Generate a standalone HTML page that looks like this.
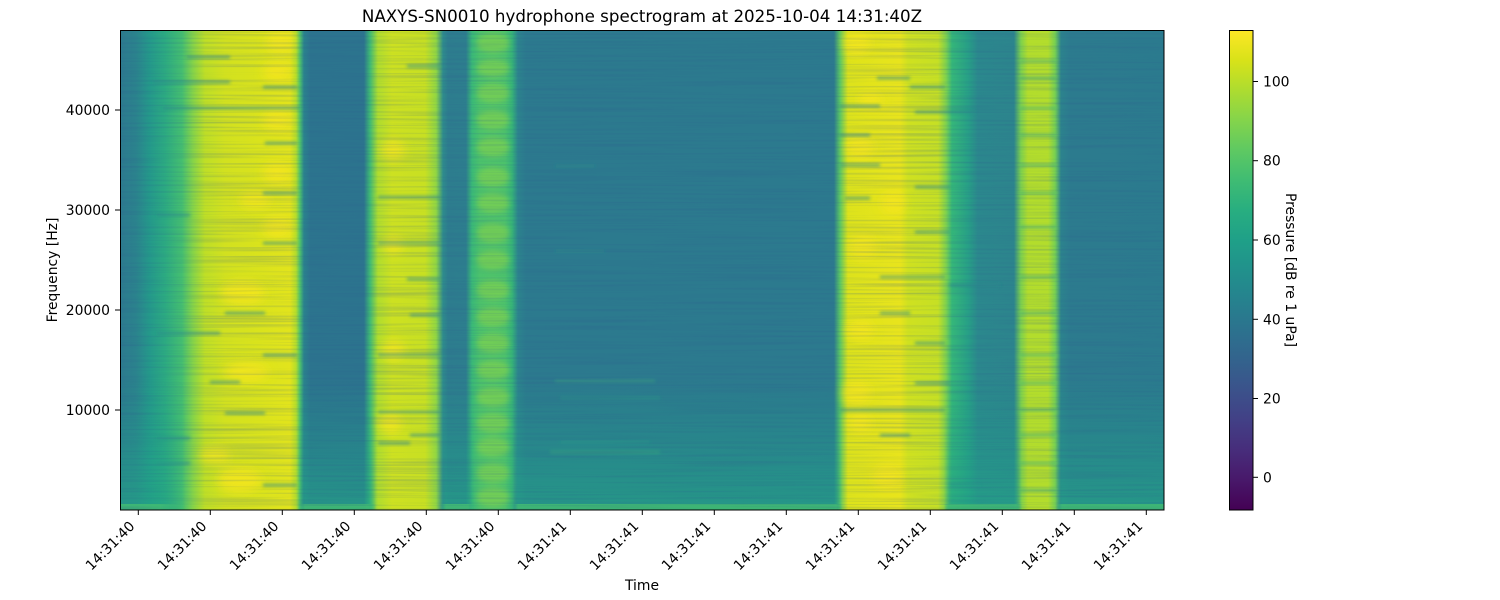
<!DOCTYPE html>
<html><head><meta charset="utf-8"><style>
html,body{margin:0;padding:0;background:#fff;}
svg{display:block;}
text{font-family:"DejaVu Sans","Liberation Sans",sans-serif;fill:#000;}
</style></head><body>
<svg width="1500" height="600" viewBox="0 0 1500 600" xmlns="http://www.w3.org/2000/svg">
<defs>
<linearGradient id="prof" gradientUnits="userSpaceOnUse" x1="120" y1="0" x2="1164" y2="0">
<stop offset="0" stop-color="#2c7a8e"/>
<stop offset=".0153" stop-color="#2b838d"/>
<stop offset=".0287" stop-color="#249a8a"/>
<stop offset=".0431" stop-color="#2cab81"/>
<stop offset=".0594" stop-color="#45bf70"/>
<stop offset=".0699" stop-color="#86d448"/>
<stop offset=".0814" stop-color="#bfdf26"/>
<stop offset=".1006" stop-color="#d2e11f"/>
<stop offset=".1341" stop-color="#dae31c"/>
<stop offset=".1628" stop-color="#e2e41c"/>
<stop offset=".1686" stop-color="#b5de2b"/>
<stop offset=".1724" stop-color="#4fc36a"/>
<stop offset=".1762" stop-color="#2a838d"/>
<stop offset=".1820" stop-color="#2c748e"/>
<stop offset=".2337" stop-color="#2c748e"/>
<stop offset=".2395" stop-color="#3fbb74"/>
<stop offset=".2471" stop-color="#b0dd2e"/>
<stop offset=".2605" stop-color="#cde121"/>
<stop offset=".2921" stop-color="#c8e022"/>
<stop offset=".3027" stop-color="#92d742"/>
<stop offset=".3094" stop-color="#2e8c8c"/>
<stop offset=".3142" stop-color="#2d7d8e"/>
<stop offset=".3314" stop-color="#2d7e8e"/>
<stop offset=".3372" stop-color="#3ab977"/>
<stop offset=".3448" stop-color="#4cc26c"/>
<stop offset=".3688" stop-color="#4cc26c"/>
<stop offset=".3755" stop-color="#36b478"/>
<stop offset=".3812" stop-color="#2c848d"/>
<stop offset=".3889" stop-color="#2c7a8e"/>
<stop offset=".6839" stop-color="#2c7a8e"/>
<stop offset=".6897" stop-color="#5cc863"/>
<stop offset=".6973" stop-color="#dde31b"/>
<stop offset=".7471" stop-color="#e8e41c"/>
<stop offset=".7548" stop-color="#cfe120"/>
<stop offset=".7835" stop-color="#c6e024"/>
<stop offset=".7912" stop-color="#7fd24d"/>
<stop offset=".7969" stop-color="#35b779"/>
<stop offset=".8123" stop-color="#27a086"/>
<stop offset=".8218" stop-color="#2b888d"/>
<stop offset=".8563" stop-color="#2c858d"/>
<stop offset=".8630" stop-color="#7ed24c"/>
<stop offset=".8697" stop-color="#b3dd2c"/>
<stop offset=".8889" stop-color="#b3dd2c"/>
<stop offset=".8956" stop-color="#78d151"/>
<stop offset=".9013" stop-color="#2c838d"/>
<stop offset=".9100" stop-color="#2c7b8e"/>
<stop offset="1" stop-color="#2b7b8e"/>
</linearGradient>
<linearGradient id="mgrad" gradientUnits="userSpaceOnUse" x1="120" y1="0" x2="1164" y2="0">
<stop offset="0" stop-color="#fff"/>
<stop offset=".0383" stop-color="#fff"/>
<stop offset=".0623" stop-color="#000"/>
<stop offset=".1705" stop-color="#000"/>
<stop offset=".1772" stop-color="#fff"/>
<stop offset=".2375" stop-color="#fff"/>
<stop offset=".2452" stop-color="#000"/>
<stop offset=".3065" stop-color="#000"/>
<stop offset=".3123" stop-color="#fff"/>
<stop offset=".3333" stop-color="#fff"/>
<stop offset=".3391" stop-color="#000"/>
<stop offset=".3774" stop-color="#000"/>
<stop offset=".3812" stop-color="#fff"/>
<stop offset=".6858" stop-color="#fff"/>
<stop offset=".6916" stop-color="#000"/>
<stop offset=".7893" stop-color="#000"/>
<stop offset=".7950" stop-color="#fff"/>
<stop offset=".8582" stop-color="#fff"/>
<stop offset=".8640" stop-color="#000"/>
<stop offset=".8966" stop-color="#000"/>
<stop offset=".9023" stop-color="#fff"/>
<stop offset="1" stop-color="#fff"/>
</linearGradient>
<mask id="quiet" maskUnits="userSpaceOnUse" x="120" y="30" width="1044" height="480">
<rect x="120" y="30" width="1044" height="480" fill="url(#mgrad)"/>
</mask>
<linearGradient id="lowf" gradientUnits="userSpaceOnUse" x1="0" y1="380" x2="0" y2="505">
<stop offset="0" stop-color="#20a386" stop-opacity="0"/>
<stop offset=".55" stop-color="#20a386" stop-opacity="0.35"/>
<stop offset="1" stop-color="#22a884" stop-opacity="0.62"/>
</linearGradient>
<linearGradient id="vir" x1="0" y1="1" x2="0" y2="0">
<stop offset="0" stop-color="#440154"/>
<stop offset=".0625" stop-color="#48186a"/>
<stop offset=".125" stop-color="#472d7b"/>
<stop offset=".1875" stop-color="#424086"/>
<stop offset=".25" stop-color="#3b528b"/>
<stop offset=".3125" stop-color="#33638d"/>
<stop offset=".375" stop-color="#2c728e"/>
<stop offset=".4375" stop-color="#26828e"/>
<stop offset=".5" stop-color="#21918c"/>
<stop offset=".5625" stop-color="#1fa088"/>
<stop offset=".625" stop-color="#28ae80"/>
<stop offset=".6875" stop-color="#3fbc73"/>
<stop offset=".75" stop-color="#5ec962"/>
<stop offset=".8125" stop-color="#84d44b"/>
<stop offset=".875" stop-color="#addc30"/>
<stop offset=".9375" stop-color="#d8e219"/>
<stop offset="1" stop-color="#fde725"/>
</linearGradient>
<filter id="noise" filterUnits="userSpaceOnUse" x="120" y="30" width="1044" height="480" color-interpolation-filters="sRGB">
<feTurbulence type="fractalNoise" baseFrequency="0.006 0.45" numOctaves="2" seed="5"/>
<feColorMatrix type="matrix" values="0 0 0 0 0.18  0 0 0 0 0.36  0 0 0 0 0.56  1.7 0 0 0 -0.72"/>
</filter>
<filter id="b5" x="-20%" y="-20%" width="140%" height="140%"><feGaussianBlur stdDeviation="5"/></filter>
<filter id="b3" x="-20%" y="-20%" width="140%" height="140%"><feGaussianBlur stdDeviation="3"/></filter>
<filter id="b1" x="-20%" y="-20%" width="140%" height="140%"><feGaussianBlur stdDeviation="1.6"/></filter>
<clipPath id="pc"><rect x="120" y="30" width="1044" height="480"/></clipPath>
</defs>

<text x="642" y="22" font-size="16.7" text-anchor="middle">NAXYS-SN0010 hydrophone spectrogram at 2025-10-04 14:31:40Z</text>

<g clip-path="url(#pc)">
<rect x="120" y="30" width="1044" height="480" fill="url(#prof)"/>
<g filter="url(#b5)" fill="#f6e61f" opacity="0.8">
<ellipse cx="280" cy="42" rx="14" ry="10"/><ellipse cx="277" cy="72" rx="14" ry="9"/>
<ellipse cx="277" cy="120" rx="14" ry="10"/><ellipse cx="277" cy="173" rx="14" ry="10"/>
<ellipse cx="277" cy="227" rx="14" ry="10"/><ellipse cx="243" cy="293" rx="22" ry="12"/>
<ellipse cx="247" cy="372" rx="22" ry="10"/><ellipse cx="240" cy="480" rx="22" ry="12"/>
<ellipse cx="215" cy="455" rx="15" ry="8"/><ellipse cx="255" cy="200" rx="16" ry="8"/>
<ellipse cx="393" cy="150" rx="12" ry="10"/><ellipse cx="390" cy="423" rx="12" ry="10"/>
<ellipse cx="393" cy="350" rx="12" ry="9"/><ellipse cx="393" cy="245" rx="10" ry="8"/>
<ellipse cx="857" cy="43" rx="14" ry="12"/><ellipse cx="860" cy="147" rx="14" ry="12"/>
<ellipse cx="893" cy="203" rx="12" ry="10"/><ellipse cx="857" cy="393" rx="14" ry="12"/>
<ellipse cx="860" cy="423" rx="12" ry="10"/><ellipse cx="887" cy="477" rx="14" ry="12"/>
<ellipse cx="863" cy="247" rx="14" ry="12"/><ellipse cx="870" cy="100" rx="12" ry="8"/>
<ellipse cx="860" cy="330" rx="14" ry="10"/>
</g>
<g filter="url(#b3)" fill="#74cf55" opacity="0.9">
<ellipse cx="493" cy="43" rx="16" ry="10"/><ellipse cx="493" cy="68" rx="16" ry="9"/>
<ellipse cx="493" cy="93" rx="16" ry="10"/><ellipse cx="493" cy="120" rx="16" ry="10"/>
<ellipse cx="493" cy="147" rx="16" ry="10"/><ellipse cx="493" cy="177" rx="16" ry="10"/>
<ellipse cx="493" cy="203" rx="16" ry="10"/><ellipse cx="493" cy="233" rx="16" ry="10"/>
<ellipse cx="493" cy="260" rx="16" ry="10"/><ellipse cx="493" cy="290" rx="16" ry="10"/>
<ellipse cx="493" cy="317" rx="16" ry="10"/><ellipse cx="493" cy="343" rx="16" ry="10"/>
<ellipse cx="493" cy="370" rx="16" ry="10"/><ellipse cx="493" cy="397" rx="16" ry="10"/>
<ellipse cx="493" cy="423" rx="16" ry="10"/><ellipse cx="493" cy="447" rx="16" ry="10"/>
<ellipse cx="493" cy="473" rx="16" ry="10"/><ellipse cx="493" cy="497" rx="16" ry="10"/>
</g>
<g filter="url(#b1)" fill="#2a8a8c" opacity="0.8">
<rect x="187" y="56" width="43" height="2.2"/><rect x="153" y="81" width="77" height="2.2"/>
<rect x="263" y="86" width="34" height="2.2"/><rect x="163" y="107" width="137" height="2.2"/>
<rect x="265" y="142" width="32" height="2.2"/><rect x="263" y="192" width="34" height="2.2"/>
<rect x="157" y="214" width="33" height="2.2"/><rect x="263" y="242" width="34" height="2.2"/>
<rect x="225" y="312" width="40" height="2.2"/><rect x="157" y="332" width="63" height="2.2"/>
<rect x="263" y="354" width="34" height="2.2"/><rect x="210" y="381" width="30" height="2.2"/>
<rect x="225" y="412" width="40" height="2.2"/><rect x="157" y="437" width="33" height="2.2"/>
<rect x="157" y="462" width="33" height="2.2"/><rect x="263" y="484" width="34" height="2.2"/>
<rect x="407" y="65" width="33" height="2.2"/><rect x="378" y="196" width="62" height="2"/>
<rect x="378" y="242" width="62" height="2"/><rect x="407" y="278" width="33" height="2.2"/>
<rect x="410" y="314" width="30" height="2.2"/><rect x="378" y="354" width="62" height="2"/>
<rect x="378" y="411" width="62" height="2"/><rect x="410" y="434" width="30" height="2.2"/>
<rect x="378" y="442" width="32" height="2.2"/>
<rect x="877" y="77" width="33" height="2.2"/><rect x="910" y="86" width="35" height="2.2"/>
<rect x="840" y="105" width="40" height="2.2"/><rect x="915" y="111" width="60" height="2.2"/>
<rect x="840" y="134" width="30" height="2.2"/><rect x="840" y="164" width="40" height="2.2"/>
<rect x="915" y="186" width="35" height="2.2"/><rect x="845" y="197" width="25" height="2.2"/>
<rect x="915" y="231" width="35" height="2.2"/><rect x="880" y="276" width="65" height="2"/>
<rect x="950" y="284" width="50" height="2.2"/><rect x="880" y="312" width="30" height="2.2"/>
<rect x="915" y="342" width="30" height="2.2"/><rect x="915" y="382" width="35" height="2.2"/>
<rect x="840" y="409" width="105" height="2.2"/><rect x="880" y="434" width="30" height="2.2"/>
<rect x="950" y="484" width="30" height="2.2"/>
</g>
<g filter="url(#b1)" fill="#3aa981" opacity="0.75">
<rect x="1020" y="60" width="36" height="2"/><rect x="1020" y="77" width="36" height="2.2"/>
<rect x="1020" y="107" width="36" height="2.2"/><rect x="1020" y="134" width="36" height="2.2"/>
<rect x="1020" y="164" width="36" height="2.2"/><rect x="1020" y="192" width="36" height="2.2"/>
<rect x="1020" y="226" width="36" height="2.2"/><rect x="1020" y="276" width="36" height="2.2"/>
<rect x="1020" y="312" width="36" height="2.2"/><rect x="1020" y="354" width="36" height="2.2"/>
<rect x="1020" y="382" width="36" height="2.2"/><rect x="1020" y="409" width="36" height="2.2"/>
<rect x="1020" y="434" width="36" height="2.2"/><rect x="1020" y="462" width="36" height="2.2"/>
<rect x="1020" y="489" width="36" height="2.2"/>
</g>
<g filter="url(#b1)">
<rect x="555" y="380" width="100" height="2" fill="#3db977" opacity="0.5"/>
<rect x="560" y="397" width="100" height="2" fill="#2fb07f" opacity="0.4"/>
<rect x="550" y="451" width="110" height="2.2" fill="#4ac16d" opacity="0.6"/>
<rect x="560" y="441" width="90" height="2" fill="#2fb07f" opacity="0.35"/>
<rect x="555" y="250" width="50" height="2" fill="#2fa585" opacity="0.35"/>
<rect x="555" y="165" width="40" height="2" fill="#2fa585" opacity="0.3"/>
</g>
<g mask="url(#quiet)">
<rect x="120" y="380" width="1044" height="130" fill="url(#lowf)"/>
</g>
<rect x="120" y="504" width="1044" height="6" fill="#46c06f" opacity="0.75" mask="url(#quiet)"/>
<rect x="120" y="30" width="1044" height="480" filter="url(#noise)" opacity="0.32"/>
</g>
<rect x="120.5" y="30.5" width="1043.5" height="479.5" fill="none" stroke="#000" stroke-width="1"/>

<g stroke="#000" stroke-width="1">
<line x1="115" y1="410" x2="120" y2="410"/><line x1="115" y1="310" x2="120" y2="310"/>
<line x1="115" y1="210" x2="120" y2="210"/><line x1="115" y1="110" x2="120" y2="110"/>
</g>
<g font-size="13.9" text-anchor="end">
<text x="110" y="415">10000</text><text x="110" y="315">20000</text>
<text x="110" y="215">30000</text><text x="110" y="115">40000</text>
</g>
<text transform="translate(57,270) rotate(-90)" font-size="13.9" text-anchor="middle">Frequency [Hz]</text>

<g stroke="#000" stroke-width="1">
<line x1="138.3" y1="510" x2="138.3" y2="515"/><line x1="210.3" y1="510" x2="210.3" y2="515"/>
<line x1="282.3" y1="510" x2="282.3" y2="515"/><line x1="354.3" y1="510" x2="354.3" y2="515"/>
<line x1="426.3" y1="510" x2="426.3" y2="515"/><line x1="498.3" y1="510" x2="498.3" y2="515"/>
<line x1="570.3" y1="510" x2="570.3" y2="515"/><line x1="642.3" y1="510" x2="642.3" y2="515"/>
<line x1="714.3" y1="510" x2="714.3" y2="515"/><line x1="786.3" y1="510" x2="786.3" y2="515"/>
<line x1="858.3" y1="510" x2="858.3" y2="515"/><line x1="930.3" y1="510" x2="930.3" y2="515"/>
<line x1="1002.3" y1="510" x2="1002.3" y2="515"/><line x1="1074.3" y1="510" x2="1074.3" y2="515"/>
<line x1="1146.3" y1="510" x2="1146.3" y2="515"/>
</g>
<g font-size="13.9" text-anchor="end">
<text transform="translate(135.5,527) rotate(-45)">14:31:40</text>
<text transform="translate(207.5,527) rotate(-45)">14:31:40</text>
<text transform="translate(279.5,527) rotate(-45)">14:31:40</text>
<text transform="translate(351.5,527) rotate(-45)">14:31:40</text>
<text transform="translate(423.5,527) rotate(-45)">14:31:40</text>
<text transform="translate(495.5,527) rotate(-45)">14:31:40</text>
<text transform="translate(567.5,527) rotate(-45)">14:31:41</text>
<text transform="translate(639.5,527) rotate(-45)">14:31:41</text>
<text transform="translate(711.5,527) rotate(-45)">14:31:41</text>
<text transform="translate(783.5,527) rotate(-45)">14:31:41</text>
<text transform="translate(855.5,527) rotate(-45)">14:31:41</text>
<text transform="translate(927.5,527) rotate(-45)">14:31:41</text>
<text transform="translate(999.5,527) rotate(-45)">14:31:41</text>
<text transform="translate(1071.5,527) rotate(-45)">14:31:41</text>
<text transform="translate(1143.5,527) rotate(-45)">14:31:41</text>
</g>
<text x="642" y="590" font-size="13.9" text-anchor="middle">Time</text>

<rect x="1229.5" y="30.5" width="23.5" height="479.5" fill="url(#vir)" stroke="#000" stroke-width="1"/>
<g stroke="#000" stroke-width="1">
<line x1="1253" y1="81.5" x2="1258" y2="81.5"/><line x1="1253" y1="160.7" x2="1258" y2="160.7"/>
<line x1="1253" y1="240" x2="1258" y2="240"/><line x1="1253" y1="319.3" x2="1258" y2="319.3"/>
<line x1="1253" y1="398.5" x2="1258" y2="398.5"/><line x1="1253" y1="477.3" x2="1258" y2="477.3"/>
</g>
<g font-size="13.9">
<text x="1263" y="86.5">100</text><text x="1263" y="165.7">80</text>
<text x="1263" y="245">60</text><text x="1263" y="324.3">40</text>
<text x="1263" y="403.5">20</text><text x="1263" y="482.3">0</text>
</g>
<text transform="translate(1286,270) rotate(90)" font-size="13.9" text-anchor="middle">Pressure [dB re 1 uPa]</text>
</svg>
</body></html>
